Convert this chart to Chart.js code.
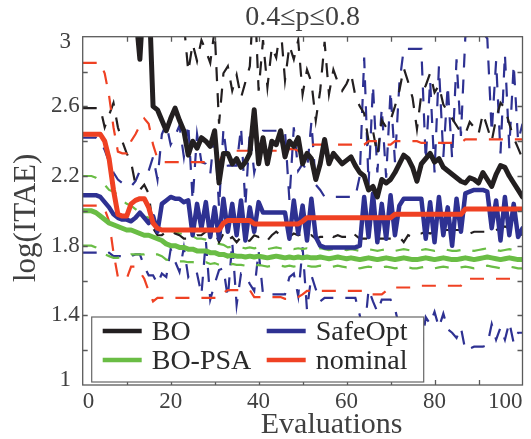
<!DOCTYPE html>
<html>
<head>
<meta charset="utf-8">
<script src="https://cdn.jsdelivr.net/npm/chart.js@4.4.1/dist/chart.umd.min.js"></script>
<style>
  html, body { margin: 0; padding: 0; background: #fff; }
  #wrap { width: 531px; height: 439px; }
</style>
</head>
<body>
<div id="wrap"><canvas id="c" width="531" height="439"></canvas></div>
<script>
// Evaluation index on the x axis
const evaluations = Array.from({ length: 101 }, (_, i) => i);

// Mean log(ITAE) per evaluation and the half-width of the band around it
const boMean = [
  3.3, 3.3, 3.3, 3.3, 3.3, 3.3, 3.3, 3.3, 3.3, 3.3,
  3.3, 3.3, 3.15, 2.87, 3.3, 3.3, 2.60, 2.58, 2.52, 2.46,
  2.53, 2.59, 2.52, 2.46, 2.32, 2.40, 2.36, 2.42, 2.40, 2.37,
  2.46, 2.16, 2.33, 2.33, 2.27, 2.30, 2.25, 2.28, 2.33, 2.58,
  2.27, 2.42, 2.27, 2.40, 2.38, 2.46, 2.31, 2.40, 2.37, 2.42,
  2.27, 2.33, 2.30, 2.18, 2.27, 2.41, 2.27, 2.33, 2.30, 2.27,
  2.29, 2.31, 2.26, 2.22, 2.20, 2.12, 2.14, 2.08, 2.18, 2.16,
  2.18, 2.22, 2.27, 2.32, 2.30, 2.25, 2.17, 2.27, 2.30, 2.33,
  2.28, 2.30, 2.25, 2.23, 2.21, 2.19, 2.17, 2.16, 2.19, 2.18,
  2.16, 2.22, 2.18, 2.14, 2.21, 2.26, 2.25, 2.20, 2.16, 2.12,
  2.08
];
const boSpread = [
  0.71, 0.71, 0.71, 0.71, 0.71, 0.82, 0.75, 0.68, 0.82, 0.90,
  0.97, 1.02, 1.00, 0.75, 1.15, 1.20, 0.70, 0.72, 0.66, 0.58,
  0.64, 0.72, 0.66, 0.62, 0.48, 0.56, 0.50, 0.56, 0.52, 0.48,
  0.58, 0.34, 0.46, 0.50, 0.42, 0.48, 0.40, 0.46, 0.50, 0.72,
  0.42, 0.56, 0.44, 0.54, 0.50, 0.60, 0.44, 0.55, 0.50, 0.56,
  0.40, 0.48, 0.44, 0.34, 0.42, 0.56, 0.40, 0.48, 0.44, 0.42,
  0.44, 0.48, 0.40, 0.38, 0.36, 0.28, 0.32, 0.24, 0.34, 0.32,
  0.34, 0.38, 0.42, 0.50, 0.44, 0.40, 0.30, 0.40, 0.42, 0.46,
  0.40, 0.42, 0.36, 0.34, 0.32, 0.30, 0.28, 0.28, 0.32, 0.30,
  0.28, 0.34, 0.30, 0.26, 0.32, 0.36, 0.34, 0.30, 0.26, 0.24,
  0.22
];

const psaMean = [
  2.00, 2.00, 2.00, 1.99, 1.97, 1.95, 1.93, 1.92, 1.91, 1.90,
  1.89, 1.89, 1.88, 1.87, 1.86, 1.86, 1.85, 1.84, 1.83, 1.81,
  1.80, 1.80, 1.79, 1.79, 1.78, 1.78, 1.77, 1.77, 1.77, 1.76,
  1.76, 1.75, 1.75, 1.74, 1.745, 1.74, 1.74, 1.735, 1.74, 1.735,
  1.74, 1.735, 1.73, 1.735, 1.74, 1.735, 1.73, 1.735, 1.73, 1.735,
  1.73, 1.735, 1.73, 1.73, 1.735, 1.73, 1.725, 1.73, 1.735, 1.73,
  1.725, 1.73, 1.725, 1.72, 1.725, 1.73, 1.725, 1.72, 1.725, 1.73,
  1.725, 1.72, 1.725, 1.73, 1.725, 1.72, 1.72, 1.725, 1.73, 1.725,
  1.72, 1.725, 1.73, 1.725, 1.72, 1.72, 1.725, 1.73, 1.725, 1.72,
  1.725, 1.73, 1.735, 1.73, 1.725, 1.72, 1.725, 1.73, 1.725, 1.72,
  1.72
];
const psaSpread = [
  0.20, 0.20, 0.20, 0.20, 0.20, 0.20, 0.19, 0.19, 0.18, 0.16,
  0.15, 0.14, 0.13, 0.12, 0.11, 0.10, 0.10, 0.09, 0.09, 0.09,
  0.085, 0.08, 0.08, 0.08, 0.075, 0.075, 0.07, 0.07, 0.065, 0.065,
  0.06, 0.06, 0.055, 0.05, 0.05, 0.05, 0.05, 0.05, 0.05, 0.05,
  0.05, 0.05, 0.05, 0.05, 0.05, 0.05, 0.05, 0.05, 0.05, 0.05,
  0.05, 0.05, 0.05, 0.05, 0.05, 0.05, 0.05, 0.05, 0.05, 0.05,
  0.05, 0.05, 0.05, 0.05, 0.05, 0.05, 0.05, 0.05, 0.05, 0.05,
  0.05, 0.05, 0.05, 0.05, 0.05, 0.05, 0.05, 0.05, 0.05, 0.05,
  0.05, 0.05, 0.05, 0.05, 0.05, 0.05, 0.05, 0.05, 0.05, 0.05,
  0.05, 0.05, 0.05, 0.05, 0.05, 0.05, 0.05, 0.05, 0.05, 0.05,
  0.05
];

const safeMean = [
  2.09, 2.09, 2.09, 2.09, 2.08, 2.05, 2.02, 1.98, 1.96, 1.95,
  1.95, 1.94, 1.96, 1.99, 1.96, 1.93, 1.97, 1.88, 2.04, 2.06,
  2.08, 2.07, 2.07, 2.05, 2.06, 1.86, 2.04, 1.90, 2.05, 1.85,
  2.02, 1.84, 2.07, 1.88, 2.04, 1.86, 2.06, 1.83, 2.02, 1.88,
  2.05, 1.99, 1.99, 1.99, 1.99, 1.99, 1.99, 1.84, 2.06, 1.87,
  2.03, 1.83, 2.07, 1.85, 1.80, 1.79, 1.79, 1.79, 1.79, 1.79,
  1.79, 1.79, 1.79, 1.80, 2.08, 1.85, 2.10, 1.82, 2.04, 1.84,
  2.09, 1.86, 2.03, 2.07, 2.07, 2.07, 2.07, 2.07, 1.84, 2.05,
  1.82, 2.08, 1.86, 2.02, 1.80, 2.07, 1.88, 2.10, 2.11, 2.12,
  2.12, 2.12, 2.11, 1.90, 2.06, 1.83, 2.08, 1.86, 2.04, 1.85,
  1.90
];
const safeSpread = [
  0.33, 0.33, 0.33, 0.33, 0.32, 0.30, 0.26, 0.24, 0.22, 0.21,
  0.20, 0.20, 0.21, 0.24, 0.28, 0.30, 0.34, 0.30, 0.40, 0.44,
  0.30, 0.36, 0.42, 0.26, 0.44, 0.20, 0.40, 0.38, 0.22, 0.36,
  0.44, 0.18, 0.40, 0.38, 0.22, 0.40, 0.42, 0.20, 0.44, 0.34,
  0.28, 0.47, 0.47, 0.47, 0.47, 0.47, 0.47, 0.22, 0.42, 0.36,
  0.24, 0.40, 0.44, 0.30, 0.32, 0.29, 0.29, 0.29, 0.29, 0.29,
  0.29, 0.29, 0.29, 0.40, 0.80, 0.30, 0.62, 0.40, 0.55, 0.35,
  0.60, 0.42, 0.70, 0.86, 0.86, 0.86, 0.86, 0.86, 0.45, 0.70,
  0.40, 0.75, 0.45, 0.70, 0.50, 0.80, 0.55, 0.90, 0.90, 0.90,
  0.90, 0.90, 0.88, 0.55, 0.80, 0.50, 0.82, 0.50, 0.80, 0.55,
  0.60
];

const nominalMean = [
  2.44, 2.44, 2.44, 2.44, 2.44, 2.40, 2.30, 2.12, 1.98, 1.97,
  1.97, 2.04, 2.06, 2.07, 2.07, 2.02, 1.93, 1.90, 1.89, 1.89,
  1.89, 1.89, 1.89, 1.89, 1.89, 1.89, 1.89, 1.89, 1.89, 1.89,
  1.89, 1.89, 1.93, 1.945, 1.945, 1.945, 1.945, 1.945, 1.945, 1.925,
  1.925, 1.925, 1.925, 1.925, 1.925, 1.925, 1.925, 1.925, 1.925, 1.925,
  1.94, 1.96, 1.96, 1.96, 1.96, 1.96, 1.96, 1.96, 1.96, 1.96,
  1.96, 1.96, 1.96, 1.96, 1.96, 1.96, 1.96, 1.96, 1.96, 1.96,
  1.96, 1.98, 1.98, 1.98, 1.98, 1.98, 1.98, 1.98, 1.98, 1.98,
  1.98, 1.98, 1.98, 1.98, 1.98, 1.98, 1.98, 2.01, 2.01, 2.01,
  2.01, 2.01, 2.01, 2.01, 2.01, 2.01, 2.01, 2.01, 2.01, 2.01,
  2.01
];
const nominalSpread = [
  0.41, 0.41, 0.41, 0.41, 0.41, 0.39, 0.36, 0.36, 0.36, 0.36,
  0.36, 0.36, 0.38, 0.42, 0.46, 0.48, 0.45, 0.40, 0.39, 0.39,
  0.39, 0.39, 0.39, 0.39, 0.39, 0.39, 0.39, 0.39, 0.39, 0.39,
  0.39, 0.39, 0.40, 0.40, 0.40, 0.40, 0.40, 0.40, 0.40, 0.42,
  0.42, 0.42, 0.42, 0.42, 0.42, 0.42, 0.43, 0.43, 0.43, 0.42,
  0.42, 0.42, 0.42, 0.42, 0.42, 0.42, 0.42, 0.42, 0.42, 0.42,
  0.42, 0.42, 0.42, 0.42, 0.42, 0.44, 0.44, 0.44, 0.44, 0.42,
  0.42, 0.42, 0.42, 0.42, 0.42, 0.42, 0.42, 0.41, 0.41, 0.41,
  0.41, 0.41, 0.41, 0.41, 0.41, 0.41, 0.41, 0.40, 0.40, 0.40,
  0.40, 0.40, 0.40, 0.40, 0.40, 0.40, 0.40, 0.40, 0.40, 0.40,
  0.40
];

// Axis ticks
const xTickStep = 10;
const xLabelEvery = 20;
const yTickStep = 0.2;

const FONT = "'Liberation Serif', 'DejaVu Serif', 'Times New Roman', serif";
const TEXT = '#404040';
const COLORS = { bo: '#231f20', psa: '#6abd45', safe: '#2e3192', nominal: '#ef4123' };

const pts = arr => arr.map((v, i) => ({ x: evaluations[i], y: v }));
const bound = (mean, spread, sign) => mean.map((m, i) => +(m + sign * spread[i]).toFixed(3));

function meanSet(label, mean, color, order, width) {
  return { label, data: pts(mean), borderColor: color, borderWidth: width, order,
           xAxisID: 'x', yAxisID: 'y',
           pointRadius: 0, fill: false, tension: 0, clip: 0,
           borderJoinStyle: 'round', borderCapStyle: 'round' };
}
function bandSet(label, data, color, order) {
  return { label, data: pts(data), borderColor: color, borderWidth: 2.2, order,
           xAxisID: 'x', yAxisID: 'y',
           borderDash: [14, 12], pointRadius: 0, fill: false, tension: 0, clip: 0,
           borderJoinStyle: 'miter', borderCapStyle: 'butt' };
}

const datasets = [
  meanSet('nominal', nominalMean, COLORS.nominal, 1, 5),
  meanSet('BO', boMean, COLORS.bo, 2, 5),
  meanSet('BO-PSA', psaMean, COLORS.psa, 3, 5),
  meanSet('SafeOpt', safeMean, COLORS.safe, 4, 4.5),
  bandSet('nominal upper', bound(nominalMean, nominalSpread, 1), COLORS.nominal, 11),
  bandSet('nominal lower', bound(nominalMean, nominalSpread, -1), COLORS.nominal, 11),
  bandSet('BO upper', bound(boMean, boSpread, 1), COLORS.bo, 12),
  bandSet('BO lower', bound(boMean, boSpread, -1), COLORS.bo, 12),
  bandSet('BO-PSA upper', bound(psaMean, psaSpread, 1), COLORS.psa, 13),
  bandSet('BO-PSA lower', bound(psaMean, psaSpread, -1), COLORS.psa, 13),
  bandSet('SafeOpt upper', bound(safeMean, safeSpread, 1), COLORS.safe, 14),
  bandSet('SafeOpt lower', bound(safeMean, safeSpread, -1), COLORS.safe, 14)
];

// Box around the plot area with inward tick marks on all four sides
const boxFrame = {
  id: 'boxFrame',
  afterDatasetsDraw(chart) {
    const { ctx, chartArea: a, scales: { x, y } } = chart;
    const L = 5;
    ctx.save();
    ctx.strokeStyle = '#5a5a5a';
    ctx.lineWidth = 1.3;
    ctx.strokeRect(a.left, a.top, a.right - a.left, a.bottom - a.top);
    ctx.beginPath();
    x.ticks.forEach(t => {
      if (t.value <= x.min || t.value >= x.max) return;
      const px = Math.round(x.getPixelForValue(t.value)) + 0.5;
      ctx.moveTo(px, a.bottom); ctx.lineTo(px, a.bottom - L);
      ctx.moveTo(px, a.top); ctx.lineTo(px, a.top + L);
    });
    y.ticks.forEach(t => {
      if (t.value <= y.min + 1e-6 || t.value >= y.max - 1e-6) return;
      const py = Math.round(y.getPixelForValue(t.value)) + 0.5;
      ctx.moveTo(a.left, py); ctx.lineTo(a.left + L, py);
      ctx.moveTo(a.right, py); ctx.lineTo(a.right - L, py);
    });
    ctx.stroke();
    ctx.restore();
  }
};

// The axis titles sit on their own label-only axes; slide those axes so the
// titles land off the plot's centre lines (no data is drawn against them).
const axisTitleOffset = {
  id: 'axisTitleOffset',
  afterLayout(chart, args, opts) {
    const { xTitle, yTitle } = chart.scales;
    xTitle.left += opts.x; xTitle.right += opts.x;
    yTitle.top += opts.y; yTitle.bottom += opts.y;
  }
};

// Two-column legend in a framed box inside the plot
const boxedLegend = {
  id: 'boxedLegend',
  afterDraw(chart, args, opts) {
    const { ctx, chartArea: a } = chart;
    const x0 = a.left + opts.inset.left, y0 = a.bottom - opts.inset.bottom - opts.height;
    ctx.save();
    ctx.fillStyle = '#ffffff';
    ctx.fillRect(x0, y0, opts.width, opts.height);
    ctx.strokeStyle = '#666666';
    ctx.lineWidth = 1.2;
    ctx.strokeRect(x0, y0, opts.width, opts.height);
    ctx.font = opts.fontSize + 'px ' + FONT;
    ctx.textBaseline = 'middle';
    opts.items.forEach(it => {
      const ds = chart.data.datasets.find(d => d.label === it.label);
      const lx = x0 + opts.colX[it.col];
      const ly = y0 + opts.rowY[it.row];
      ctx.strokeStyle = ds.borderColor;
      ctx.lineWidth = 4.5;
      ctx.lineCap = 'butt';
      ctx.beginPath();
      ctx.moveTo(lx, ly);
      ctx.lineTo(lx + opts.lineLen, ly);
      ctx.stroke();
      ctx.fillStyle = '#2a2a2a';
      ctx.fillText(ds.label, lx + opts.lineLen + opts.gap, ly + 1.5);
    });
    ctx.restore();
  }
};

const labelOnlyAxis = (position, weight, title) => ({
  type: 'linear', position, weight, min: 0, max: 1,
  grid: { display: false, drawTicks: false },
  border: { display: false },
  ticks: { display: false },
  title
});

new Chart(document.getElementById('c'), {
  type: 'line',
  data: { datasets },
  plugins: [boxFrame, axisTitleOffset, boxedLegend],
  options: {
    responsive: false,
    animation: false,
    devicePixelRatio: 1,
    layout: { padding: { left: 0, right: 8.5, top: 0, bottom: 0 } },
    plugins: {
      legend: { display: false },
      tooltip: { enabled: false },
      title: {
        display: true,
        text: '0.4≤p≤0.8',
        fullSize: false,
        color: TEXT,
        font: { family: FONT, size: 28, weight: 'normal', lineHeight: 1.1 },
        padding: { top: 2, bottom: 3.9 }
      },
      axisTitleOffset: { x: 29, y: 7 },
      boxedLegend: {
        inset: { left: 9, bottom: 3 },
        width: 332, height: 65,
        rowY: [14, 43],
        colX: [11, 175],
        lineLen: 39, gap: 10,
        fontSize: 28,
        items: [
          { label: 'BO', row: 0, col: 0 },
          { label: 'SafeOpt', row: 0, col: 1 },
          { label: 'BO-PSA', row: 1, col: 0 },
          { label: 'nominal', row: 1, col: 1 }
        ]
      }
    },
    scales: {
      x: {
        type: 'linear',
        position: 'bottom',
        weight: 0,
        min: 0, max: 100,
        grid: { display: false, drawTicks: false },
        border: { display: false },
        ticks: {
          stepSize: xTickStep, autoSkip: false, maxRotation: 0, align: 'inner',
          padding: 2.7, color: TEXT,
          font: { family: FONT, size: 23 },
          callback: v => (v % xLabelEvery === 0 ? String(v) : '')
        },
        afterFit: s => { s.height = 31; }
      },
      xTitle: Object.assign(labelOnlyAxis('bottom', 1, {
          display: true, text: 'Evaluations', color: TEXT,
          font: { family: FONT, size: 30, lineHeight: 0.8 },
          padding: { top: 0, bottom: 1.5 }
        }), { afterFit: s => { s.height = 23; } }),
      y: {
        position: 'left',
        weight: 0,
        min: 1, max: 3,
        grid: { display: false, drawTicks: false },
        border: { display: false },
        ticks: {
          stepSize: yTickStep, autoSkip: false, padding: 3, crossAlign: 'center', color: TEXT,
          font: { family: FONT, size: 23, lineHeight: 0.45 },
          callback: (v, i) => {
            if (i % 2) return '';
            const s = String(+v.toFixed(1));
            if (s === '3') return ['', s];
            if (s === '1') return [s, ''];
            return s;
          }
        },
        afterFit: s => { s.width = 42.7; }
      },
      yTitle: Object.assign(labelOnlyAxis('left', 1, {
          display: true, text: 'log(ITAE)', color: TEXT,
          font: { family: FONT, size: 31, lineHeight: 1 },
          padding: { top: 11, bottom: 0 }
        }), { afterFit: s => { s.width = 40; } })
    }
  }
});
</script>
</body>
</html>
